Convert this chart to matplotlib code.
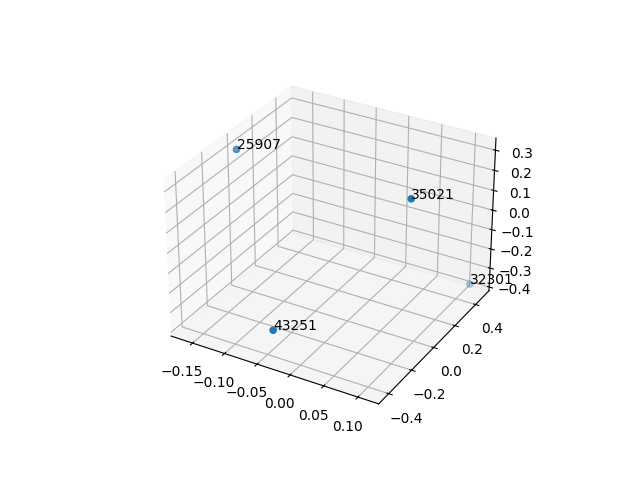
import numpy as np
import matplotlib
matplotlib.use("Agg")
import matplotlib.pyplot as plt

labels = ["25907", "35021", "32301", "43251"]
xs = [-0.164, 0.076, 0.11, -0.037]
ys = [-0.03, 0.10, 0.47, -0.42]
zs = [0.31, 0.22, -0.37, -0.27]

fig = plt.figure(figsize=(6.4, 4.8), dpi=100)
ax = fig.add_subplot(projection="3d")
ax.scatter(xs, ys, zs)
for x, y, z, lab in zip(xs, ys, zs, labels):
    ax.text(x, y, z, lab)

plt.savefig("out.png")
